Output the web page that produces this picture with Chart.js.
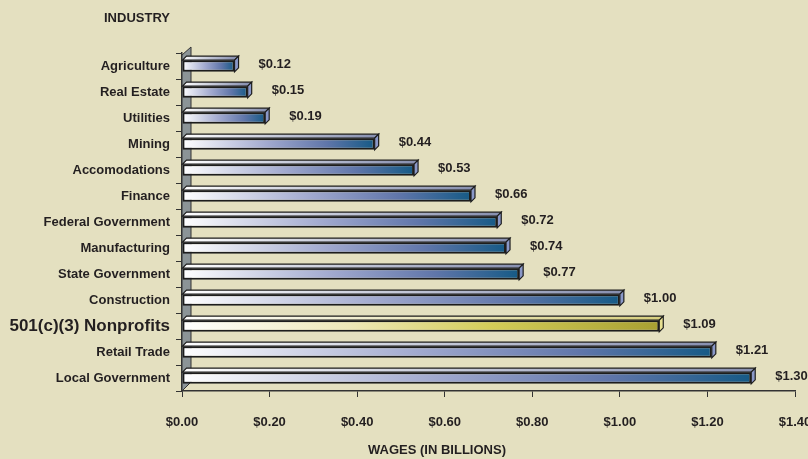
<!DOCTYPE html>
<html>
<head>
<meta charset="utf-8">
<script src="https://cdn.jsdelivr.net/npm/chart.js@4.4.1/dist/chart.umd.min.js"></script>
<style>
  html, body { margin: 0; padding: 0; background: #e4e0c0; }
  #wrap { width: 808px; height: 459px; }
</style>
</head>
<body>
<div id="wrap"><canvas id="wageChart" width="808" height="459"></canvas></div>
<script>
const industries = [
  "Agriculture", "Real Estate", "Utilities", "Mining", "Accomodations",
  "Finance", "Federal Government", "Manufacturing", "State Government",
  "Construction", "501(c)(3) Nonprofits", "Retail Trade", "Local Government"
];
const wages = [0.12, 0.15, 0.19, 0.44, 0.53, 0.66, 0.72, 0.74, 0.77, 1.00, 1.09, 1.21, 1.30];
const highlightIndex = 10;
const xTickMin = 0;
const xTickMax = 1.4;
const xTickStep = 0.2;

const FONT = "'Liberation Sans', Arial, sans-serif";
const TEXT = "#231f20";
const DEPTH = 4;

const fmt = (v) => "$" + v.toFixed(2);

// gradient along each bar, white on the left
const barFill = (ctx) => {
  const chart = ctx.chart;
  const xs = chart.scales.x;
  const fallback = ctx.dataIndex === highlightIndex ? "#d3cc58" : "#6076aa";
  if (!xs || ctx.dataIndex === undefined) return fallback;
  const x0 = xs.getPixelForValue(0);
  const x1 = xs.getPixelForValue(wages[ctx.dataIndex]);
  if (!isFinite(x0) || !isFinite(x1) || x1 <= x0) return fallback;
  const g = chart.ctx.createLinearGradient(x0, 0, x1, 0);
  if (ctx.dataIndex === highlightIndex) {
    g.addColorStop(0, "#ffffff");
    g.addColorStop(0.35, "#eee8b8");
    g.addColorStop(0.65, "#d3cc58");
    g.addColorStop(1, "#a8a032");
  } else {
    g.addColorStop(0, "#ffffff");
    g.addColorStop(0.45, "#a0a8ce");
    g.addColorStop(0.75, "#6076aa");
    g.addColorStop(1, "#165a86");
  }
  return g;
};

// grey wall behind the bars, plus 3d faces and value labels
const depthPlugin = {
  id: "depth",
  beforeDatasetsDraw(chart) {
    const { ctx, chartArea: a } = chart;
    ctx.save();
    ctx.beginPath();
    ctx.moveTo(a.left, a.bottom);
    ctx.lineTo(a.left, a.top + 2);
    ctx.lineTo(a.left + 9, a.top - 6);
    ctx.lineTo(a.left + 9, a.bottom - 9);
    ctx.closePath();
    ctx.fillStyle = "#8b9497";
    ctx.fill();
    ctx.strokeStyle = "#333";
    ctx.lineWidth = 1;
    ctx.stroke();
    ctx.restore();
  },
  afterDatasetsDraw(chart) {
    const { ctx } = chart;
    const meta = chart.getDatasetMeta(0);
    ctx.save();
    meta.data.forEach((bar, i) => {
      const top = bar.y - bar.height / 2;
      const bot = bar.y + bar.height / 2;
      const yellow = i === highlightIndex;
      // top face
      ctx.beginPath();
      ctx.moveTo(bar.base, top);
      ctx.lineTo(bar.base + DEPTH, top - DEPTH);
      ctx.lineTo(bar.x + DEPTH, top - DEPTH);
      ctx.lineTo(bar.x, top);
      ctx.closePath();
      const g = ctx.createLinearGradient(bar.base, 0, bar.x, 0);
      g.addColorStop(0, "#ffffff");
      g.addColorStop(1, yellow ? "#d8d080" : "#8890b0");
      ctx.fillStyle = g;
      ctx.fill();
      ctx.strokeStyle = "#1d1d1d";
      ctx.lineWidth = 1.2;
      ctx.stroke();
      // side face
      ctx.beginPath();
      ctx.moveTo(bar.x, top);
      ctx.lineTo(bar.x + DEPTH, top - DEPTH);
      ctx.lineTo(bar.x + DEPTH, bot - DEPTH);
      ctx.lineTo(bar.x, bot);
      ctx.closePath();
      ctx.fillStyle = yellow ? "#e6df90" : "#8a98c8";
      ctx.fill();
      ctx.stroke();
      // value label
      ctx.fillStyle = TEXT;
      ctx.font = "bold 13px " + FONT;
      ctx.textAlign = "left";
      ctx.textBaseline = "middle";
      ctx.fillText(fmt(wages[i]), bar.x + 24, bar.y - 2);
    });
    ctx.restore();
  },
  afterDraw(chart) {
    const { ctx } = chart;
    ctx.save();
    ctx.fillStyle = TEXT;
    ctx.font = "bold 13px " + FONT;
    ctx.textBaseline = "middle";
    ctx.textAlign = "left";
    ctx.fillText("INDUSTRY", 104, 18);
    ctx.textAlign = "center";
    ctx.fillText("WAGES (IN BILLIONS)", 437, 450);
    ctx.restore();
  }
};

new Chart(document.getElementById("wageChart"), {
  type: "bar",
  data: {
    labels: industries,
    datasets: [
      {
        label: "Wages",
        data: wages,
        backgroundColor: barFill,
        borderColor: "#1d1d1d",
        borderWidth: 2,
        borderSkipped: false,
        barPercentage: 0.45,
        categoryPercentage: 1,
      },
    ],
  },
  options: {
    indexAxis: "y",
    responsive: false,
    animation: false,
    devicePixelRatio: 1,
    layout: { padding: { top: 53, right: 13, bottom: 0, left: 0 } },
    plugins: { legend: { display: false }, tooltip: { enabled: false } },
    scales: {
      x: {
        min: xTickMin,
        max: xTickMax,
        ticks: {
          stepSize: xTickStep,
          padding: 18,
          color: TEXT,
          font: { family: FONT, size: 13, weight: "bold" },
          callback: (v) => fmt(v),
          maxRotation: 0,
        },
        grid: { drawOnChartArea: false, tickLength: 6, color: "#333" },
        border: { color: "#333", width: 1.5 },
        afterFit: (s) => {
          s.height = 68;
          s.paddingLeft = 0;
          s.paddingRight = 0;
        },
      },
      y: {
        ticks: {
          padding: 6,
          color: TEXT,
          font: (c) =>
            c.index === highlightIndex
              ? { family: FONT, size: 17, weight: "bold" }
              : { family: FONT, size: 13, weight: "bold" },
        },
        grid: { drawOnChartArea: false, tickLength: 6, color: "#333" },
        border: { color: "#333", width: 1.5 },
        afterFit: (s) => {
          s.width = 182;
        },
      },
    },
  },
  plugins: [depthPlugin],
});
</script>
</body>
</html>
